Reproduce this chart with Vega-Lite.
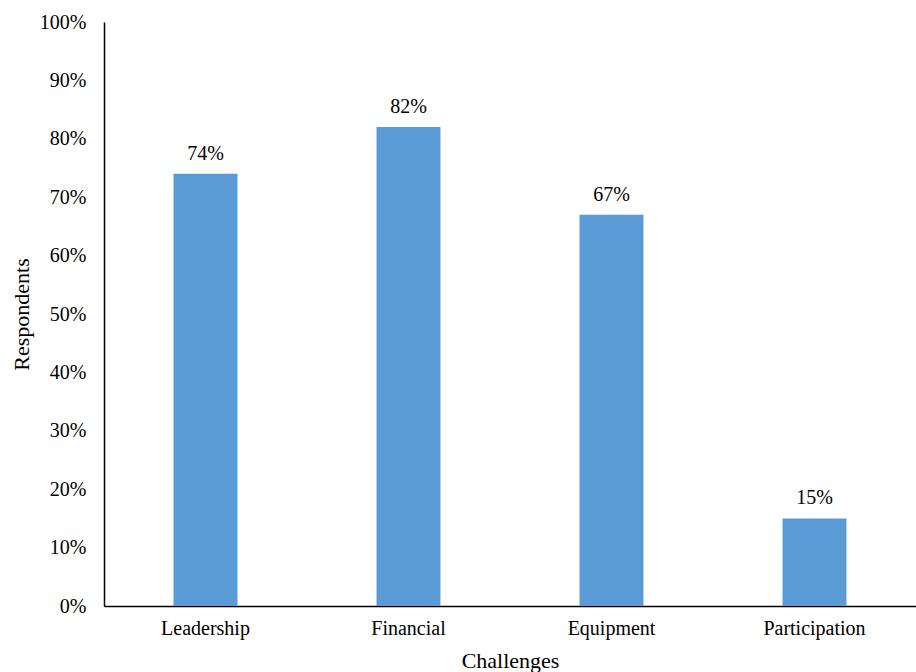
{
  "$schema": "https://vega.github.io/schema/vega-lite/v6.json",
  "autosize": "none",
  "width": 812,
  "height": 584,
  "padding": {"left": 104, "top": 22, "right": 0, "bottom": 66},
  "background": "white",
  "config": {
    "view": {"stroke": null},
    "font": "Liberation Serif"
  },
  "data": {
    "values": [
      {"challenge": "Leadership", "value": 0.74},
      {"challenge": "Financial", "value": 0.82},
      {"challenge": "Equipment", "value": 0.67},
      {"challenge": "Participation", "value": 0.15}
    ]
  },
  "encoding": {
    "x": {
      "field": "challenge",
      "type": "nominal",
      "sort": null,
      "scale": {"paddingInner": 0.685, "paddingOuter": 0.3425},
      "axis": {
        "title": "Challenges",
        "titleFont": "Liberation Serif",
        "titleFontSize": 22,
        "titleFontWeight": "normal",
        "titleColor": "black",
        "titlePadding": 12,
        "labelFont": "Liberation Serif",
        "labelFontSize": 20,
        "labelColor": "black",
        "labelAngle": 0,
        "labelPadding": 12,
        "ticks": false,
        "domainColor": "black",
        "domainWidth": 1.5,
        "grid": false
      }
    },
    "y": {
      "field": "value",
      "type": "quantitative",
      "scale": {"domain": [0, 1]},
      "axis": {
        "title": "Respondents",
        "titleFont": "Liberation Serif",
        "titleFontSize": 22,
        "titleFontWeight": "normal",
        "titleColor": "black",
        "titlePadding": 6,
        "format": ".0%",
        "values": [0, 0.1, 0.2, 0.3, 0.4, 0.5, 0.6, 0.7, 0.8, 0.9, 1],
        "labelFont": "Liberation Serif",
        "labelFontSize": 20,
        "labelColor": "black",
        "labelPadding": 18,
        "ticks": false,
        "domainColor": "black",
        "domainWidth": 1.5,
        "grid": false
      }
    }
  },
  "layer": [
    {"mark": {"type": "bar", "color": "#5B9BD5"}},
    {
      "mark": {"type": "text", "baseline": "bottom", "dy": -10, "fontSize": 20, "font": "Liberation Serif", "color": "black"},
      "encoding": {"text": {"field": "value", "type": "quantitative", "format": ".0%"}}
    }
  ]
}
